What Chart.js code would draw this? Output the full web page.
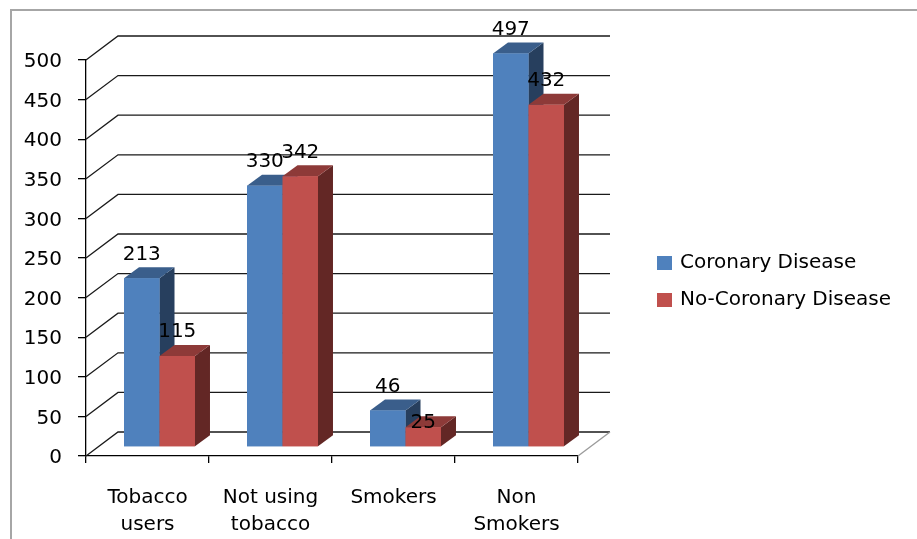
<!DOCTYPE html>
<html>
<head>
<meta charset="utf-8">
<script src="https://cdn.jsdelivr.net/npm/chart.js@4"></script>
<style>
  html, body { margin: 0; background: #fff; }
  #wrap { position: relative; width: 917px; height: 539px; }
</style>
</head>
<body>
<div id="wrap"><canvas id="chart" width="917" height="539"></canvas></div>
<script>
const categories = [['Tobacco', 'users'], ['Not using', 'tobacco'], 'Smokers', ['Non', 'Smokers']];
const coronary = [213, 330, 46, 497];
const noCoronary = [115, 342, 25, 432];
const seriesNames = ['Coronary Disease', 'No-Coronary Disease'];
const yMin = 0, yMax = 500, yStep = 50;

const FONT = '"DejaVu Sans", Verdana, sans-serif';
const WALL = { dx: 32, dy: -24 };   // back wall depth
const SHIFT = { dx: 12, dy: -9 };   // bars sit partway into the floor
const BAR = { dx: 15, dy: -11 };    // bar thickness
const faces = [
  { front: '#4F81BD', top: '#3A5E8B', side: '#273F5E' },
  { front: '#C0504D', top: '#8D3A38', side: '#632725' }
];
// the "25" label sits down on its bar
const labelNudge = { '1:2': 19 };

function drawBlock(ctx, bar, c) {
  const l = bar.x - bar.width / 2, r = bar.x + bar.width / 2;
  ctx.fillStyle = c.side;
  ctx.beginPath();
  ctx.moveTo(r, bar.y);
  ctx.lineTo(r + BAR.dx, bar.y + BAR.dy);
  ctx.lineTo(r + BAR.dx, bar.base + BAR.dy);
  ctx.lineTo(r, bar.base);
  ctx.closePath();
  ctx.fill();
  ctx.fillStyle = c.top;
  ctx.beginPath();
  ctx.moveTo(l, bar.y);
  ctx.lineTo(l + BAR.dx, bar.y + BAR.dy);
  ctx.lineTo(r + BAR.dx, bar.y + BAR.dy);
  ctx.lineTo(r, bar.y);
  ctx.closePath();
  ctx.fill();
  bar.draw(ctx);
}

const box3d = {
  id: 'box3d',
  beforeDraw(chart) {
    const ctx = chart.ctx;
    ctx.save();
    ctx.strokeStyle = '#a6a6a6';
    ctx.lineWidth = 2;
    ctx.beginPath();
    ctx.moveTo(11, chart.height);
    ctx.lineTo(11, 10);
    ctx.lineTo(chart.width, 10);
    ctx.stroke();
    ctx.restore();
  },
  beforeDatasetsDraw(chart) {
    const ctx = chart.ctx, x = chart.scales.x, y = chart.scales.y;
    ctx.save();
    ctx.strokeStyle = '#1a1a1a';
    ctx.lineWidth = 1.3;
    y.ticks.forEach(t => {
      const py = y.getPixelForValue(t.value);
      ctx.beginPath();
      ctx.moveTo(x.left, py);
      ctx.lineTo(x.left + WALL.dx, py + WALL.dy);
      ctx.lineTo(x.right + WALL.dx, py + WALL.dy);
      ctx.stroke();
    });
    ctx.strokeStyle = '#9a9a9a';
    ctx.beginPath();
    ctx.moveTo(x.right, y.bottom);
    ctx.lineTo(x.right + WALL.dx, y.bottom + WALL.dy);
    ctx.stroke();
    ctx.restore();

    ctx.save();
    ctx.translate(SHIFT.dx, SHIFT.dy);
  },
  afterDatasetsDraw(chart) {
    const ctx = chart.ctx;
    const metas = chart.data.datasets.map((ds, di) => chart.getDatasetMeta(di));
    // paint blocks left to right so each front face hides its neighbour's side
    chart.data.labels.forEach((_, i) => {
      metas.forEach((meta, di) => drawBlock(ctx, meta.data[i], faces[di]));
    });

    ctx.font = '20px ' + FONT;
    ctx.fillStyle = '#000';
    ctx.textAlign = 'center';
    ctx.textBaseline = 'alphabetic';
    chart.data.datasets.forEach((ds, di) => {
      metas[di].data.forEach((bar, i) => {
        const nudge = labelNudge[di + ':' + i] || 0;
        ctx.fillText(String(ds.data[i]), bar.x, bar.y - 18.5 + nudge);
      });
    });
    ctx.restore();
  },
  afterDraw(chart) {
    const ctx = chart.ctx;
    ctx.save();
    ctx.font = '20px ' + FONT;
    ctx.textBaseline = 'middle';
    ctx.textAlign = 'left';
    chart.data.datasets.forEach((ds, i) => {
      const cy = 263 + i * 37;
      ctx.fillStyle = ds.backgroundColor;
      ctx.fillRect(657, cy - 7, 15, 14);
      ctx.fillStyle = '#000';
      ctx.fillText(ds.label, 680, cy);
    });
    ctx.restore();
  }
};

new Chart(document.getElementById('chart'), {
  type: 'bar',
  data: {
    labels: categories,
    datasets: [
      { label: seriesNames[0], data: coronary, backgroundColor: faces[0].front },
      { label: seriesNames[1], data: noCoronary, backgroundColor: faces[1].front }
    ]
  },
  options: {
    responsive: false,
    animation: false,
    devicePixelRatio: 1,
    layout: { padding: { top: 60, right: 339, left: 0, bottom: 0 } },
    datasets: {
      bar: { categoryPercentage: 0.577, barPercentage: 1, borderWidth: 0, clip: false }
    },
    plugins: { legend: { display: false }, tooltip: { enabled: false } },
    scales: {
      x: {
        ticks: { color: '#000', font: { family: FONT, size: 20, lineHeight: 1.35 }, padding: 21, maxRotation: 0, autoSkip: false },
        grid: { drawOnChartArea: false, tickLength: 7, color: '#000', lineWidth: 1.3, offset: true },
        border: { color: '#000', width: 1.3 },
        afterFit(s) { s.height = 83; }
      },
      y: {
        min: yMin, max: yMax,
        ticks: { stepSize: yStep, color: '#000', font: { family: FONT, size: 20 }, padding: 16, labelOffset: 2 },
        grid: { drawOnChartArea: false, tickLength: 8, color: '#000', lineWidth: 1.3 },
        border: { color: '#000', width: 1.3 },
        afterFit(s) { s.width = 86; }
      }
    }
  },
  plugins: [box3d]
});
</script>
</body>
</html>
